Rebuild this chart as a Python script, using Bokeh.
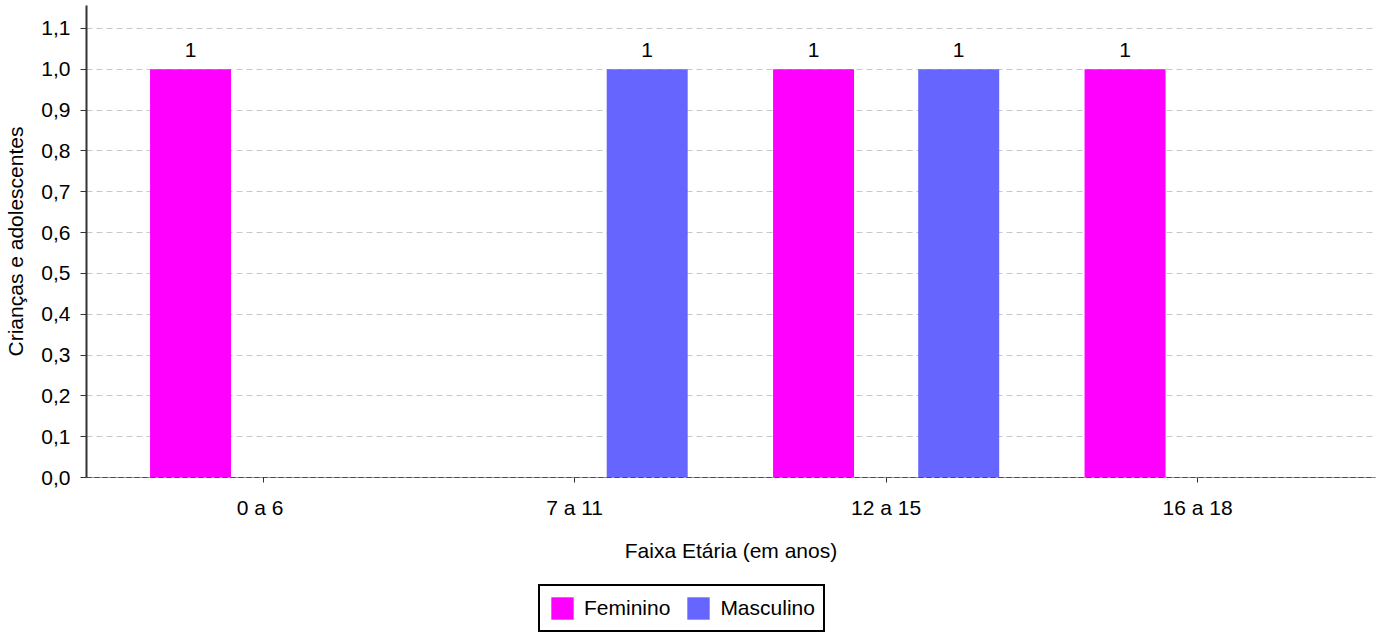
from bokeh.plotting import figure
from bokeh.layouts import column
from bokeh.models import (FixedTicker, CustomJSTickFormatter, Span, Legend,
                          LegendItem, Range1d)
from bokeh.embed import file_html
from bokeh.resources import INLINE
from bokeh.core.properties import value

# ---- data ----
categories = ["0 a  6", "7 a 11", "12 a 15", "16 a 18"]
feminino = [1, 0, 1, 1]
masculino = [0, 1, 1, 0]
series_names = ["Feminino", "Masculino"]
series_colors = ["#FF00FF", "#6666FF"]
y_ticks = [0.0, 0.1, 0.2, 0.3, 0.4, 0.5, 0.6, 0.7, 0.8, 0.9, 1.0, 1.1]
x_title = "Faixa Etária (em anos)"
y_title = "Crianças e adolescentes"

FONT = "Liberation Sans"
FS = "21px"

idx = list(range(len(categories)))
offset = 0.233
bar_w = 0.26
series = [feminino, masculino]
offsets = [-offset, offset]

p = figure(width=1382, height=570, output_backend="svg",
           toolbar_location=None,
           x_range=Range1d(-0.567, 3.571), y_range=Range1d(0, 1.156),
           min_border_left=86, min_border_right=7, min_border_top=5,
           min_border_bottom=93)
p.outline_line_color = None
p.background_fill_color = "white"
p.border_fill_color = "white"

# grid
p.xgrid.visible = False
p.ygrid.grid_line_color = "#c8c8c8"
p.ygrid.grid_line_dash = "6 4"
p.ygrid.grid_line_width = 1

# bars
for vals, off, col in zip(series, offsets, series_colors):
    xs = [i + off for i in idx]
    p.vbar(x=xs, top=vals, width=bar_w, bottom=0, fill_color=col,
           line_color=None)
    lx = [x for x, v in zip(xs, vals) if v]
    ly = [v for v in vals if v]
    lt = [str(v) for v in vals if v]
    p.text(x=lx, y=ly, text=lt, text_align="center",
           text_baseline="alphabetic", y_offset=-19,
           text_font=value(FONT), text_font_size=FS, text_color="black")

# baseline dashed
p.add_layout(Span(location=0, dimension="width", line_color="black",
                  line_dash="5 3", line_width=1))

# y axis
ya = p.yaxis[0]
ya.ticker = FixedTicker(ticks=y_ticks)
ya.formatter = CustomJSTickFormatter(code="return tick.toFixed(1).replace('.', ',');")
ya.axis_line_color = "#333333"
ya.axis_line_width = 2
ya.major_tick_out = 6
ya.major_tick_in = 0
ya.minor_tick_line_color = None
ya.major_tick_line_color = "#333333"
ya.major_label_standoff = 10
ya.major_label_text_font = FONT
ya.major_label_text_font_size = FS
ya.major_label_text_color = "black"
ya.axis_label = y_title
ya.axis_label_text_font = FONT
ya.axis_label_text_font_size = FS
ya.axis_label_text_font_style = "normal"
ya.axis_label_text_color = "black"
ya.axis_label_standoff = 11

# x axis
xa = p.xaxis[0]
xa.ticker = FixedTicker(ticks=idx)
xa.formatter = CustomJSTickFormatter(args=dict(labels=categories),
                                     code="return labels[Math.round(tick)];")
xa.axis_line_color = "#999999"
xa.axis_line_width = 1
xa.major_tick_out = 5
xa.major_tick_in = 0
xa.minor_tick_line_color = None
xa.major_tick_line_color = "#333333"
xa.major_label_standoff = 13
xa.major_label_text_font = FONT
xa.major_label_text_font_size = FS
xa.major_label_text_color = "black"
xa.axis_label = x_title
xa.axis_label_text_font = FONT
xa.axis_label_text_font_size = FS
xa.axis_label_text_font_style = "normal"
xa.axis_label_text_color = "black"
xa.axis_label_standoff = 17

# legend strip (separate figure below the chart; its bars lie outside its
# visible y range so only the legend shows)
pl = figure(width=1382, height=63, output_backend="svg", toolbar_location=None,
            x_range=Range1d(-0.567, 3.571), y_range=Range1d(2, 3),
            x_axis_location=None, y_axis_location=None,
            min_border_left=0, min_border_right=0, min_border_top=0,
            min_border_bottom=0)
pl.outline_line_color = None
pl.xgrid.visible = False
pl.ygrid.visible = False
pl.background_fill_color = "white"
pl.border_fill_color = "white"

leg_renderers = []
for vals, off, col in zip(series, offsets, series_colors):
    xs = [i + off for i in idx]
    leg_renderers.append(pl.vbar(x=xs, top=vals, width=bar_w, bottom=0,
                                 fill_color=col, line_color=None))

items = [LegendItem(label=n, renderers=[r]) for n, r in zip(series_names, leg_renderers)]
legend = Legend(items=items, orientation="horizontal", location=(452, 1),
                border_line_color="black", border_line_width=2,
                border_line_alpha=1.0,
                padding=8, spacing=14, label_standoff=8,
                glyph_width=28, glyph_height=28,
                label_text_font=FONT, label_text_font_size=FS,
                label_text_color="black", margin=0,
                background_fill_color="white", background_fill_alpha=1.0)
pl.add_layout(legend, "center")

layout = column(p, pl, spacing=0)
open("out.html", "w").write(file_html(layout, INLINE))
